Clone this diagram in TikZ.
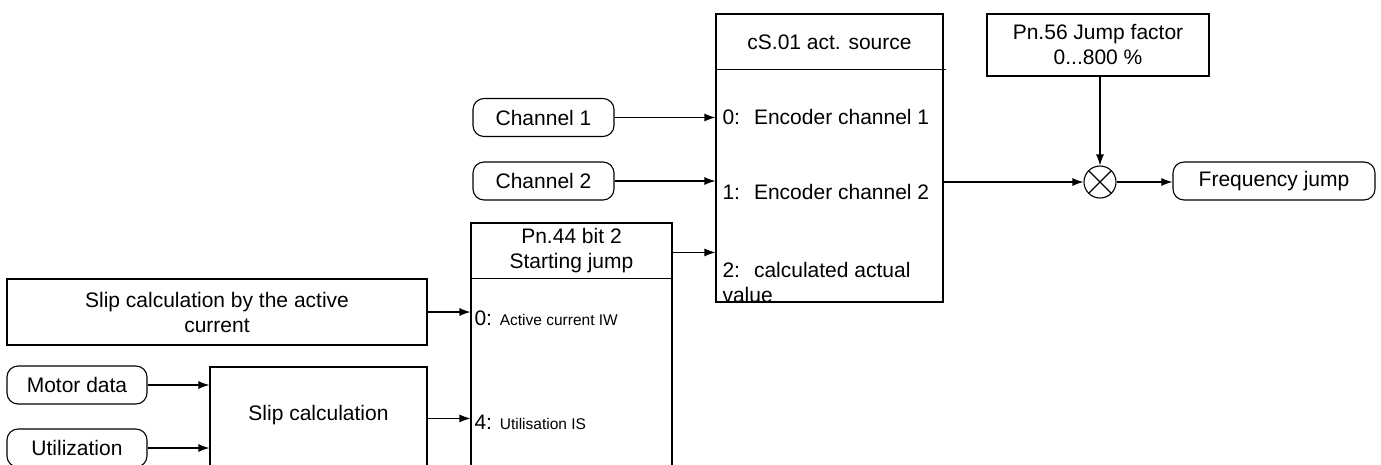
\documentclass[tikz,border=0pt]{standalone}
\usepackage{fontspec}
\setmainfont{Liberation Sans}
\usetikzlibrary{arrows.meta,positioning,calc}
\newcommand{\smtxt}[1]{{\fontsize{15.5}{18}\selectfont #1}}

\begin{document}
\begin{tikzpicture}[x=1pt, y=-1pt, >={Latex[length=11pt,width=8pt]}, line width=1.1pt,
  font=\fontsize{21}{25}\selectfont,
  box/.style={draw, rectangle, inner sep=0pt, align=center},
  term/.style={draw, rounded corners=11pt, inner sep=0pt,
               minimum height=38pt, minimum width=141pt},
  sum/.style={draw, circle, inner sep=0pt, minimum size=32pt,
              path picture={\draw (path picture bounding box.north west) -- (path picture bounding box.south east)
                                  (path picture bounding box.north east) -- (path picture bounding box.south west);}},
  head/.style={align=center, inner sep=0pt},
  item/.style={anchor=west, align=left, inner sep=0pt}]

\useasboundingbox (0,0) rectangle (1381,464);
\clip (0,0) rectangle (1381,464);

% encoder channels and the source selector
\node[term] (ch1) at (543.5,117.5) {Channel 1};
\node[term] (ch2) at (543.5,181)   {Channel 2};
\node[box, minimum width=227pt, minimum height=288pt] (src) at (829.5,158) {};
\node[head] (srchead) at (829.5,42) {cS.01 act. source};
\draw ($(src.north west)+(0,56)$) -- ($(src.north east)+(2,56)$);
\node[item] (src0) at (722,117) {0:\hspace{14pt}Encoder channel 1};
\node[item] (src1) at (722,192) {1:\hspace{14pt}Encoder channel 2};
\node[item] (src2) at (722,282) {2:\hspace{14pt}calculated actual\\value};

% jump factor and output
\node[box, minimum width=222pt, minimum height=62pt] (jf) at (1098,45) {Pn.56 Jump factor\\0...800 \%};
\node[sum] (mult) at (1100,182) {};
\node[term, minimum width=202pt] (fj) at (1274,181) {Frequency jump};

% starting jump selector (runs off the bottom edge)
\node[box, minimum width=201pt, minimum height=257pt] (sj) at (571.5,351.5) {};
\node[head] (sjhead) at (571.5,251) {Pn.44 bit 2\\Starting jump};
\draw ($(sj.north west)+(0,56)$) -- ($(sj.north east)+(0,56)$);
\node[item] (sj0) at (474,318) {0: \smtxt{Active current IW}};
\node[item] (sj4) at (474,422) {4: \smtxt{Utilisation IS}};
\coordinate (sjout) at ($(sj.north east)+(0,30)$);

% slip calculation
\node[box, minimum width=420pt, minimum height=66pt] (slipa) at (217,312) {Slip calculation by the active\\current};
\node[term, minimum width=140pt] (motor) at (77,385) {Motor data};
\node[term, minimum width=140pt] (util)  at (77,448) {Utilization};
\node[box, minimum width=217pt, minimum height=108pt] (slipc) at (318.5,421) {};
\node[head] (slipctxt) at (318.5,415) {Slip calculation};
\coordinate (slipout) at ($(slipc.north east)+(0,52)$);

\draw[->] (ch1) -- (ch1 -| src.west);
\draw[->] (ch2) -- (ch2 -| src.west);
\draw[->] (sjout) -- (sjout -| src.west);
\draw[->] (slipa) -- (slipa -| sj.west);
\draw[->] (motor) -- (motor -| slipc.west);
\draw[->] (util) -- (util -| slipc.west);
\draw[->] (slipout) -- (slipout -| sj.west);
\draw[->] (src.east |- mult) -- (mult);
\draw[->] (jf.south -| mult) -- (mult);
\draw[->] (mult) -- (mult -| fj.west);
\end{tikzpicture}
\end{document}
